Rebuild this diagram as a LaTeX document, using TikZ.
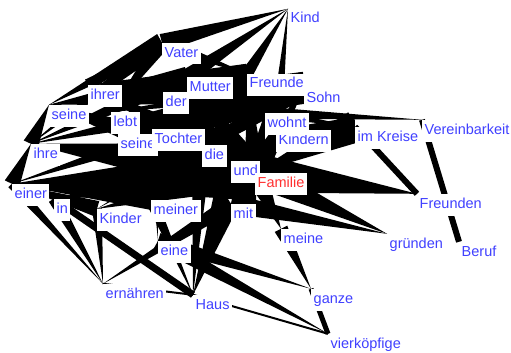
\documentclass[tikz,border=0pt]{standalone}
\usepackage{fontspec}
\setmainfont{Liberation Sans}
\usetikzlibrary{calc,backgrounds}
\definecolor{lblue}{RGB}{64,64,255}
\definecolor{lred}{RGB}{255,48,48}
\tikzset{
  lbl/.style={anchor=base west, fill=white, inner sep=2.5pt, text height=11.5pt, text depth=5pt,
    font=\fontsize{14.5}{16}\selectfont, text=lblue},
  redlbl/.style={lbl, text=lred},
}
\newcommand\wdg[3]{\fill ($(#1.north west)!#3!90:(#2.north west)$) -- ($(#1.north west)!#3!-90:(#2.north west)$) -- (#2.north west) -- cycle;}
\newcommand\bnd[3]{\draw[line width=#3] (#1.north west) -- (#2.north west);}
\begin{document}
\begin{tikzpicture}[x=1pt,y=-1pt]
\useasboundingbox (0,0) rectangle (511,353);
% labels
\node[lbl] (kind) at (288,23) {Kind};
\node[lbl] (vater) at (162,57) {Vater};
\node[lbl] (freunde) at (247,88) {Freunde};
\node[lbl] (sohn) at (304,102) {Sohn};
\node[lbl] (der) at (163,106) {der};
\node[lbl] (mutter) at (187,91) {Mutter};
\node[lbl] (ihrer) at (88,99) {ihrer};
\node[lbl] (seineA) at (49,119) {seine};
\node[lbl] (lebt) at (111,126) {lebt};
\node[lbl] (seineB) at (118,148) {seine};
\node[lbl] (tochter) at (152,143) {Tochter};
\node[lbl] (kindern) at (276,144) {Kindern};
\node[lbl] (wohnt) at (265,127) {wohnt};
\node[lbl] (imkreise) at (355,141) {im Kreise};
\node[lbl] (vereinbarkeit) at (422,134) {Vereinbarkeit};
\node[lbl] (die) at (202,159) {die};
\node[lbl] (ihre) at (31,158) {ihre};
\node[lbl] (und) at (231,175) {und};
\node[redlbl] (familie) at (255,187) {Familie};
\node[lbl] (einer) at (12,198) {einer};
\node[lbl] (inN) at (54,213) {in};
\node[lbl] (kinder) at (97,223) {Kinder};
\node[lbl] (meiner) at (151,214) {meiner};
\node[lbl] (mit) at (231,218) {mit};
\node[lbl] (eine) at (158,255) {eine};
\node[lbl] (ernaehren) at (103,298) {ernähren};
\node[lbl] (haus) at (193,309) {Haus};
\node[lbl] (meine) at (281,243) {meine};
\node[lbl] (gruenden) at (387,248) {gründen};
\node[lbl] (freunden) at (417,208) {Freunden};
\node[lbl] (beruf) at (459,256) {Beruf};
\node[lbl] (ganze) at (311,303) {ganze};
\node[lbl] (vierkoepfige) at (328,348) {vierköpfige};
\begin{pgfonlayer}{background}
% top fans
\wdg{vater}{kind}{9pt}
\wdg{mutter}{kind}{8pt}
\wdg{freunde}{kind}{6pt}
\wdg{kindern}{kind}{6pt}
\wdg{vater}{seineA}{10pt}
\wdg{ihrer}{vater}{6pt}
\wdg{vater}{freunde}{7pt}
\wdg{vater}{ihre}{8pt}
\wdg{vater}{lebt}{8pt}
% Familie hub
\wdg{familie}{seineA}{26pt}
\wdg{familie}{ihre}{30pt}
\wdg{familie}{einer}{28pt}
\wdg{familie}{ihrer}{18pt}
\wdg{familie}{lebt}{14pt}
\wdg{familie}{seineB}{12pt}
\wdg{familie}{tochter}{12pt}
\wdg{familie}{der}{14pt}
\wdg{familie}{mutter}{14pt}
\wdg{familie}{die}{10pt}
\wdg{familie}{und}{8pt}
\wdg{familie}{inN}{18pt}
\wdg{familie}{kinder}{16pt}
\wdg{familie}{meiner}{14pt}
\wdg{familie}{mit}{10pt}
\wdg{familie}{wohnt}{10pt}
\wdg{familie}{kindern}{10pt}
\wdg{familie}{sohn}{12pt}
\wdg{familie}{freunde}{10pt}
% Sohn hub
\wdg{sohn}{seineA}{16pt}
\wdg{sohn}{ihre}{16pt}
\wdg{sohn}{ihrer}{12pt}
\wdg{sohn}{lebt}{10pt}
\wdg{sohn}{der}{10pt}
\wdg{sohn}{tochter}{10pt}
\wdg{sohn}{kinder}{10pt}
\wdg{sohn}{einer}{14pt}
% other upper links
\wdg{mutter}{seineA}{10pt}
\wdg{mutter}{ihre}{10pt}
\wdg{freunde}{ihrer}{10pt}
\wdg{freunde}{seineA}{10pt}
\wdg{ihre}{seineA}{8pt}
\wdg{einer}{ihre}{8pt}
\wdg{meiner}{einer}{10pt}
\wdg{kinder}{einer}{8pt}
% right
\wdg{wohnt}{vereinbarkeit}{6pt}
\wdg{imkreise}{kindern}{10pt}
\wdg{imkreise}{familie}{16pt}
\wdg{wohnt}{imkreise}{5pt}
\wdg{familie}{freunden}{20pt}
\bnd{vereinbarkeit}{beruf}{6pt}
\bnd{imkreise}{freunden}{6pt}
\wdg{mit}{gruenden}{10pt}
\wdg{familie}{gruenden}{14pt}
% bottom
\wdg{familie}{meine}{12pt}
\wdg{meine}{ganze}{7pt}
\bnd{ganze}{vierkoepfige}{5pt}
\bnd{haus}{vierkoepfige}{2pt}
\bnd{ernaehren}{haus}{2pt}
\wdg{eine}{vierkoepfige}{8pt}
\wdg{eine}{ganze}{8pt}
\bnd{inN}{haus}{7pt}
\wdg{einer}{ernaehren}{5pt}
\wdg{inN}{ernaehren}{6pt}
\wdg{kinder}{ernaehren}{5pt}
\wdg{mit}{ernaehren}{8pt}
\wdg{die}{haus}{10pt}
\wdg{und}{haus}{10pt}
\wdg{meiner}{haus}{6pt}
\wdg{mit}{haus}{8pt}
\wdg{tochter}{eine}{5pt}
\end{pgfonlayer}
\end{tikzpicture}
\end{document}
